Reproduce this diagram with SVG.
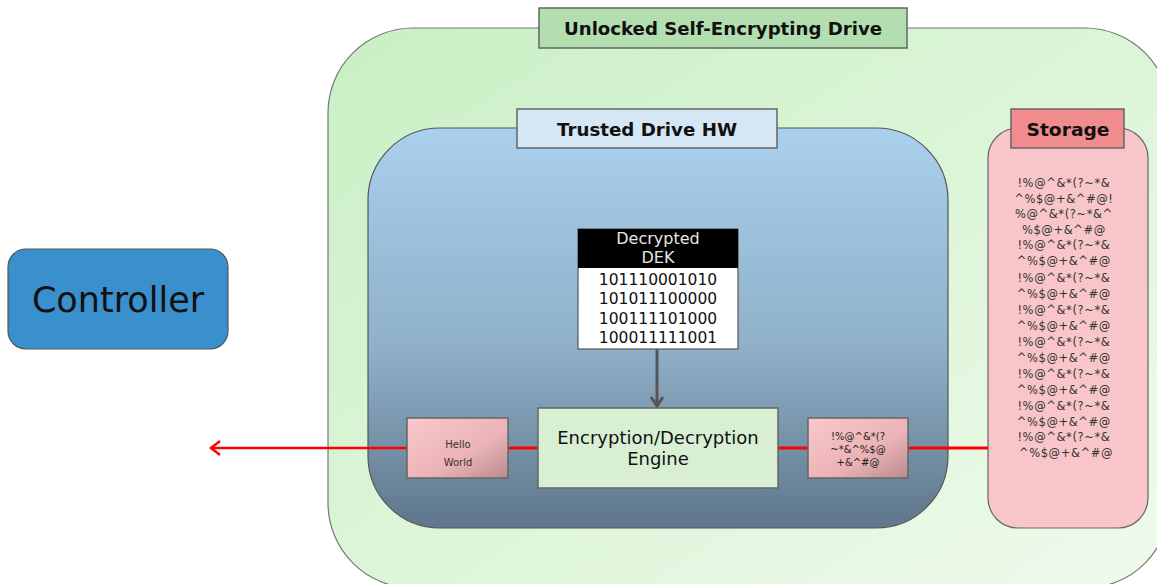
<svg xmlns="http://www.w3.org/2000/svg" width="1157" height="584" viewBox="0 0 1157 584">
<defs>
<linearGradient id="gOuter" x1="0" y1="0" x2="1" y2="1"><stop offset="0" stop-color="#c9efc4"/><stop offset="1" stop-color="#effbec"/></linearGradient>
<linearGradient id="gHW" x1="0" y1="0" x2="0" y2="1"><stop offset="0" stop-color="#aad0ee"/><stop offset="0.55" stop-color="#8fb0c8"/><stop offset="1" stop-color="#5f768c"/></linearGradient>
<linearGradient id="gPink" x1="0" y1="0" x2="1" y2="1"><stop offset="0" stop-color="#f9c9cb"/><stop offset="0.6" stop-color="#ebb3b5"/><stop offset="1" stop-color="#b98c8e"/></linearGradient>
<marker id="mGray" markerWidth="14" markerHeight="14" refX="11" refY="7" orient="auto" markerUnits="userSpaceOnUse"><path d="M2,1 L11,7 L2,13" fill="none" stroke="#555" stroke-width="3"/></marker>
<marker id="mRed" markerWidth="16" markerHeight="16" refX="12" refY="8" orient="auto" markerUnits="userSpaceOnUse"><path d="M3,1 L12,8 L3,15" fill="none" stroke="#ff0000" stroke-width="2.5"/></marker>
</defs>
<style>
.lbl{font-family:"DejaVu Sans",Verdana,sans-serif;font-weight:bold;fill:#111;text-anchor:middle}
.t{font-family:"DejaVu Sans",Verdana,sans-serif;text-anchor:middle;fill:#111}
.st{font-family:"DejaVu Sans",Verdana,sans-serif;text-anchor:middle;fill:#333;font-size:11.5px;letter-spacing:0.6px}
.box{stroke:#666;stroke-width:1.5}
</style>
<rect width="1157" height="584" fill="#ffffff"/>

<g id="drive">
<rect x="328" y="28" width="842" height="560" rx="85" ry="85" fill="url(#gOuter)" stroke="#777" stroke-width="1.2"/>
<rect x="539" y="8" width="368" height="40" fill="#b3dfb0" class="box"/>
<text x="723" y="35" class="lbl" font-size="17" textLength="318" lengthAdjust="spacingAndGlyphs">Unlocked Self-Encrypting Drive</text>
</g>

<g id="trusted-hw">
<rect x="368" y="128" width="580" height="400" rx="72" ry="72" fill="url(#gHW)" stroke="#555" stroke-width="1.2"/>
<rect x="517" y="109" width="260" height="39" fill="#d5e6f5" class="box"/>
<text x="647" y="136" class="lbl" font-size="17" textLength="180" lengthAdjust="spacingAndGlyphs">Trusted Drive HW</text>
</g>

<g id="storage">
<rect x="988" y="128" width="160" height="400" rx="30" ry="30" fill="#f8c6c8" stroke="#666" stroke-width="1.2"/>
<rect x="1011" y="109" width="113" height="39" fill="#f08c8e" class="box"/>
<text x="1068" y="136" class="lbl" font-size="17" textLength="83" lengthAdjust="spacingAndGlyphs">Storage</text>
<text class="st">
<tspan x="1066" y="187">!%@^&amp;*(?~*&amp;</tspan>
<tspan x="1066" y="203">^%$@+&amp;^#@!</tspan>
<tspan x="1066" y="218">%@^&amp;*(?~*&amp;^</tspan>
<tspan x="1066" y="234">%$@+&amp;^#@</tspan>
<tspan x="1066" y="249">!%@^&amp;*(?~*&amp;</tspan>
<tspan x="1066" y="265">^%$@+&amp;^#@</tspan>
<tspan x="1066" y="282">!%@^&amp;*(?~*&amp;</tspan>
<tspan x="1066" y="298">^%$@+&amp;^#@</tspan>
<tspan x="1066" y="314">!%@^&amp;*(?~*&amp;</tspan>
<tspan x="1066" y="330">^%$@+&amp;^#@</tspan>
<tspan x="1066" y="346">!%@^&amp;*(?~*&amp;</tspan>
<tspan x="1066" y="362">^%$@+&amp;^#@</tspan>
<tspan x="1066" y="378">!%@^&amp;*(?~*&amp;</tspan>
<tspan x="1066" y="394">^%$@+&amp;^#@</tspan>
<tspan x="1066" y="410">!%@^&amp;*(?~*&amp;</tspan>
<tspan x="1066" y="426">^%$@+&amp;^#@</tspan>
<tspan x="1066" y="441">!%@^&amp;*(?~*&amp;</tspan>
<tspan x="1066" y="457">^%$@+&amp;^#@</tspan>
</text>
</g>

<g id="connectors">
<line x1="657" y1="349" x2="657" y2="406" stroke="#555" stroke-width="3" marker-end="url(#mGray)"/>
<line x1="908" y1="448" x2="988" y2="448" stroke="#ff0000" stroke-width="3"/>
<line x1="778" y1="448" x2="808" y2="448" stroke="#ff0000" stroke-width="3"/>
<line x1="508" y1="448" x2="538" y2="448" stroke="#ff0000" stroke-width="3"/>
<line x1="407" y1="448" x2="211" y2="448" stroke="#ff0000" stroke-width="2.5" marker-end="url(#mRed)"/>
</g>

<g id="dek">
<rect x="578" y="229" width="160" height="120" fill="#ffffff" stroke="#555" stroke-width="1.2"/>
<rect x="578" y="229" width="160" height="39" fill="#000000"/>
<text class="t" font-size="16" style="fill:#e6e6e6"><tspan x="658" y="244">Decrypted</tspan><tspan x="658" y="263">DEK</tspan></text>
<text class="t" font-size="15.5"><tspan x="658" y="285">101110001010</tspan><tspan x="658" y="304">101011100000</tspan><tspan x="658" y="324">100111101000</tspan><tspan x="658" y="343">100011111001</tspan></text>
</g>

<g id="engine">
<rect x="538" y="408" width="240" height="80" fill="#d8efd4" class="box"/>
<text class="t" font-size="18"><tspan x="658" y="444">Encryption/Decryption</tspan><tspan x="658" y="465">Engine</tspan></text>
</g>

<g id="plaintext">
<rect x="407" y="418" width="101" height="60" fill="url(#gPink)" class="box"/>
<text class="t" font-size="10" style="fill:#333"><tspan x="458" y="448">Hello</tspan><tspan x="458" y="466">World</tspan></text>
</g>

<g id="ciphertext">
<rect x="808" y="418" width="100" height="60" fill="url(#gPink)" class="box"/>
<text class="t" font-size="10" style="fill:#222"><tspan x="858" y="440">!%@^&amp;*(?</tspan><tspan x="858" y="453">~*&amp;^%$@</tspan><tspan x="858" y="466">+&amp;^#@</tspan></text>
</g>

<g id="controller">
<rect x="8" y="249" width="220" height="100" rx="18" ry="18" fill="#3a8fcd" stroke="#555" stroke-width="1.2"/>
<text x="118" y="312" class="t" font-size="35">Controller</text>
</g>
</svg>
